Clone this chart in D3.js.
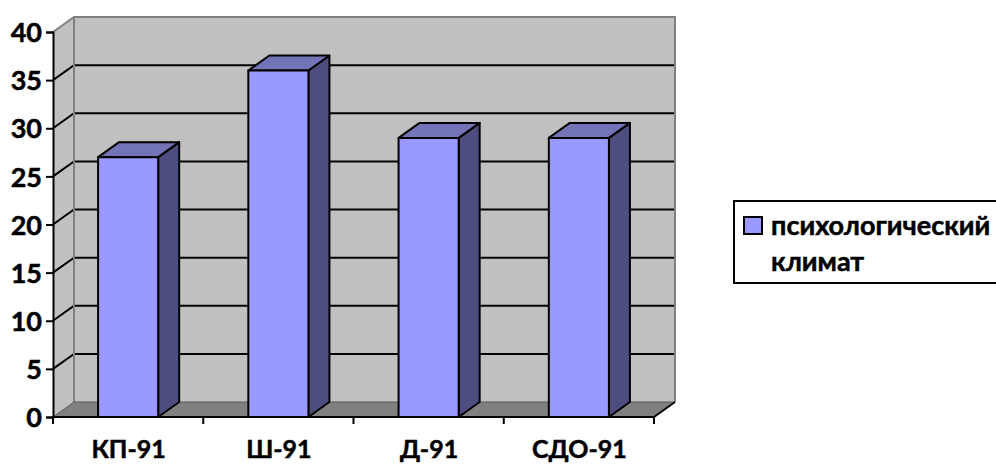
<!DOCTYPE html>
<html>
<head>
<meta charset="utf-8">
<script src="https://cdn.jsdelivr.net/npm/d3@7"></script>
<style>
body { margin: 0; background: #fff; overflow: hidden; }
text { font-family: Lato, "Open Sans", sans-serif; font-weight: 700; fill: #000; stroke: #000; stroke-width: 0.5px; }
</style>
</head>
<body>
<div id="chart-area"></div>
<script>
var categories = ["КП-91", "Ш-91", "Д-91", "СДО-91"];
var values = [27, 36, 29, 29];
var yTicks = [0, 5, 10, 15, 20, 25, 30, 35, 40];
var legendLines = ["психологический", "климат"];

var width = 996, height = 464;
var x0 = 53, x1 = 654, y0 = 417, y1 = 32;
var dx = 21, dy = -15;

var svg = d3.select("#chart-area").append("svg")
    .attr("width", width)
    .attr("height", height)
    .style("display", "block");

// Scales
var x = d3.scaleBand()
    .domain(categories)
    .range([x0, x1])
    .paddingInner(0.6)
    .paddingOuter(0.3);

var y = d3.scaleLinear()
    .domain([0, 40])
    .range([y0, y1]);

function pts(a) {
  return a.map(function(p) { return p.join(","); }).join(" ");
}

// Walls and floor
svg.append("polygon")
    .attr("points", pts([[x0, y1], [x0 + dx, y1 + dy], [x0 + dx, y0 + dy], [x0, y0]]))
    .attr("fill", "#c0c0c0");
svg.append("rect")
    .attr("x", x0 + dx).attr("y", y1 + dy)
    .attr("width", x1 - x0).attr("height", y0 - y1)
    .attr("fill", "#c0c0c0");
svg.append("polygon")
    .attr("points", pts([[x0, y0], [x0 + dx, y0 + dy], [x1 + dx, y0 + dy], [x1, y0]]))
    .attr("fill", "#808080");

// Gridlines on the back and side wall
svg.selectAll(".grid")
    .data(yTicks.filter(function(d) { return d > 0 && d < 40; }))
  .enter().append("polyline")
    .attr("class", "grid")
    .attr("fill", "none")
    .attr("stroke", "#000")
    .attr("stroke-width", 2)
    .attr("points", function(d) {
      return pts([[x0, y(d)], [x0 + dx, y(d) + dy], [x1 + dx, y(d) + dy]]);
    });

// Wall edges
svg.append("polyline")
    .attr("fill", "none")
    .attr("stroke", "#808080")
    .attr("stroke-width", 2)
    .attr("points", pts([[x0, y1], [x0 + dx, y1 + dy], [x1 + dx, y1 + dy], [x1 + dx, y0 + dy]]));
svg.append("line")
    .attr("x1", x0 + dx).attr("x2", x0 + dx)
    .attr("y1", y1 + dy).attr("y2", y0 + dy)
    .attr("stroke", "#808080").attr("stroke-width", 2);
svg.append("polyline")
    .attr("fill", "none")
    .attr("stroke", "#5a5a5a")
    .attr("stroke-width", 1)
    .attr("points", pts([[x0, y0], [x0 + dx, y0 + dy], [x1 + dx, y0 + dy]]));

// Bars
var bars = svg.selectAll(".bar")
    .data(values)
  .enter().append("g")
    .attr("class", "bar")
    .attr("stroke", "#000")
    .attr("stroke-width", 2)
    .attr("stroke-linejoin", "round");

bars.append("polygon")
    .attr("fill", "#4d4d80")
    .attr("points", function(d, i) {
      var r = x(categories[i]) + x.bandwidth();
      return pts([[r, y(d)], [r + dx, y(d) + dy], [r + dx, y0 + dy], [r, y0]]);
    });

bars.append("polygon")
    .attr("fill", "#7373b8")
    .attr("points", function(d, i) {
      var l = x(categories[i]), r = l + x.bandwidth();
      return pts([[l, y(d)], [l + dx, y(d) + dy], [r + dx, y(d) + dy], [r, y(d)]]);
    });

bars.append("rect")
    .attr("fill", "#9999ff")
    .attr("stroke", "none")
    .attr("x", function(d, i) { return x(categories[i]); })
    .attr("y", function(d) { return y(d); })
    .attr("width", x.bandwidth())
    .attr("height", function(d) { return y0 - y(d); });

// Bar outlines, bottom edge is left to the axis
bars.append("polyline")
    .attr("fill", "none")
    .attr("points", function(d, i) {
      var l = x(categories[i]), r = l + x.bandwidth();
      return pts([[l, y0], [l, y(d)], [r, y(d)], [r, y0]]);
    });

// Axes
var yAxis = d3.axisLeft(y)
    .tickValues(yTicks)
    .tickSize(7)
    .tickPadding(4);

var yAxisGroup = svg.append("g")
    .attr("transform", "translate(" + x0 + ",0)")
    .call(yAxis);
yAxisGroup.selectAll("text")
    .attr("dy", "0.36em")
    .style("font-size", "27px")
    .style("font-family", "Lato, sans-serif");
yAxisGroup.selectAll("line, path").attr("stroke", "#000").attr("stroke-width", 2);

// category axis ticks sit between the bars
var xEdges = d3.scaleLinear().domain([0, categories.length]).range([x0, x1]);

svg.append("line")
    .attr("x1", x0 - 1).attr("x2", x1 + 1)
    .attr("y1", y0).attr("y2", y0)
    .attr("stroke", "#000").attr("stroke-width", 2);

svg.selectAll(".xtick")
    .data(d3.range(categories.length + 1))
  .enter().append("line")
    .attr("class", "xtick")
    .attr("x1", function(d) { return xEdges(d); })
    .attr("x2", function(d) { return xEdges(d); })
    .attr("y1", y0)
    .attr("y2", y0 + 7)
    .attr("stroke", "#000").attr("stroke-width", 2);

svg.selectAll(".xlabel")
    .data(categories)
  .enter().append("text")
    .attr("class", "xlabel")
    .attr("x", function(d, i) { return xEdges(i + 0.5) + 0.5; })
    .attr("y", 458)
    .attr("text-anchor", "middle")
    .style("font-size", "25px")
    .text(function(d) { return d; });

// Front corner of the floor
svg.append("line")
    .attr("x1", x1).attr("y1", y0)
    .attr("x2", x1 + dx).attr("y2", y0 + dy)
    .attr("stroke", "#000").attr("stroke-width", 2);

// Legend
svg.append("rect")
    .attr("x", 734).attr("y", 201)
    .attr("width", 270).attr("height", 82)
    .attr("fill", "#fff")
    .attr("stroke", "#000")
    .attr("stroke-width", 2);

svg.append("rect")
    .attr("x", 744).attr("y", 217)
    .attr("width", 18).attr("height", 17)
    .attr("fill", "#9999ff")
    .attr("stroke", "#000")
    .attr("stroke-width", 2);

svg.selectAll(".legend-label")
    .data(legendLines)
  .enter().append("text")
    .attr("class", "legend-label")
    .attr("x", 771)
    .attr("y", function(d, i) { return 235 + i * 36; })
    .style("font-size", "27px")
    .text(function(d) { return d; });
</script>
</body>
</html>
